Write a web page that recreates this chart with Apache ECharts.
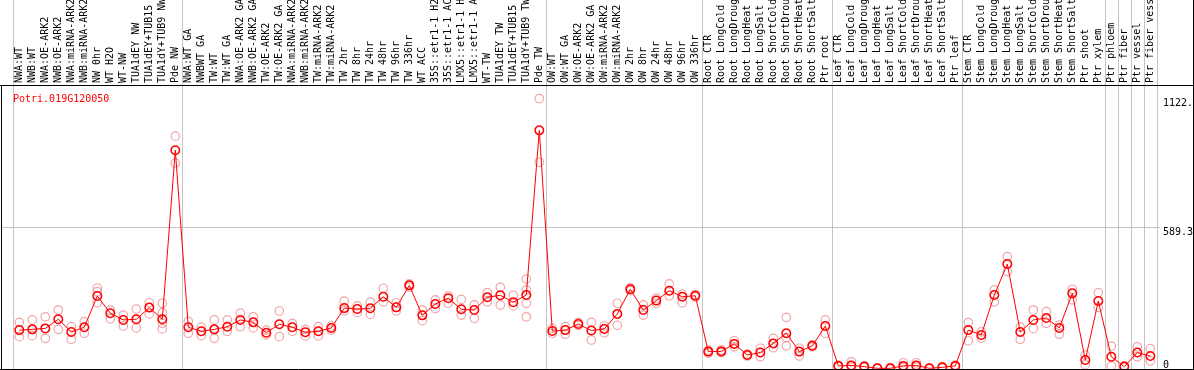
<!DOCTYPE html>
<html>
<head>
<meta charset="utf-8">
<script src="https://cdn.jsdelivr.net/npm/echarts@6/dist/echarts.min.js"></script>
<style>
  html, body { margin: 0; padding: 0; background: #fff; }
  #chart { width: 1194px; height: 370px; }
</style>
</head>
<body>
<div id="chart"></div>
<script>
const geneId = 'Potri.019G120050';

const categories = [
  'NWA:WT', 'NWB:WT', 'NWA:OE-ARK2', 'NWB:OE-ARK2', 'NWA:miRNA-ARK2', 'NWB:miRNA-ARK2',
  'NW 0hr', 'WT H2O', 'WT-NW', 'TUA1dEY NW', 'TUA1dEY+TUB15 NW', 'TUA1dY+TUB9 NW', 'Pde NW',
  'NWA:WT GA', 'NWBWT GA', 'TW:WT', 'TW:WT GA', 'NWA:OE-ARK2 GA', 'NWB:OE-ARK2 GA',
  'TW:OE-ARK2', 'TW:OE-ARK2 GA', 'NWA:miRNA-ARK2', 'NWB:miRNA-ARK2', 'TW:miRNA-ARK2', 'TW:miRNA-ARK2',
  'TW 2hr', 'TW 8hr', 'TW 24hr', 'TW 48hr', 'TW 96hr', 'TW 336hr', 'WT ACC',
  '35S::etr1-1 H2O', '35S::etr1-1 ACC', 'LMX5::etr1-1 H2O', 'LMX5::etr1-1 ACC',
  'WT-TW', 'TUA1dEY TW', 'TUA1dEY+TUB15 TW', 'TUA1dY+TUB9 TW', 'Pde TW',
  'OW:WT', 'OW:WT GA', 'OW:OE-ARK2', 'OW:OE-ARK2 GA', 'OW:miRNA-ARK2', 'OW:miRNA-ARK2',
  'OW 2hr', 'OW 8hr', 'OW 24hr', 'OW 48hr', 'OW 96hr', 'OW 336hr',
  'Root CTR', 'Root LongCold', 'Root LongDrought', 'Root LongHeat', 'Root LongSalt',
  'Root ShortCold', 'Root ShortDrought', 'Root ShortHeat', 'Root ShortSalt', 'Ptr root',
  'Leaf CTR', 'Leaf LongCold', 'Leaf LongDrought', 'Leaf LongHeat', 'Leaf LongSalt',
  'Leaf ShortCold', 'Leaf ShortDrought', 'Leaf ShortHeat', 'Leaf ShortSalt', 'Ptr leaf',
  'Stem CTR', 'Stem LongCold', 'Stem LongDrought', 'Stem LongHeat', 'Stem LongSalt',
  'Stem ShortCold', 'Stem ShortDrought', 'Stem ShortHeat', 'Stem ShortSalt', 'Ptr shoot',
  'Ptr xylem', 'Ptr phloem', 'Ptr fiber', 'Ptr vessel', 'Ptr fiber vessel'
];

// index of the first category of each sample group
const groupStarts = [0, 13, 41, 53, 63, 73, 84, 85, 86, 87];

const means = [
  165, 168, 172, 210, 157, 177, 306, 235, 207, 210, 258, 210, 909,
  177, 160, 168, 179, 207, 197, 154, 189, 177, 156, 160, 174, 256, 252, 255, 303, 259, 350,
  226, 273, 297, 251, 248, 301, 309, 280, 310, 991,
  161, 165, 190, 163, 170, 232, 334, 248, 287, 328, 303, 307,
  76, 77, 108, 62, 72, 110, 152, 76, 100, 182,
  17, 19, 14, 7, 7, 17, 19, 7, 11, 17,
  165, 145, 310, 438, 157, 207, 215, 174, 317, 41, 285,
  55, 14, 72, 58
];

const repHigh = [
  197, 207, 220, 248, 179, 200, 339, 248, 227, 252, 278, 276, 967,
  201, 177, 207, 207, 235, 220, 165, 244, 193, 168, 179, 182, 285, 265, 281, 338, 278, 356,
  248, 290, 306, 292, 269, 320, 342, 309, 376, 1122.5,
  172, 179, 197, 197, 182, 276, 340, 269, 297, 356, 314, 312,
  82, 83, 121, 66, 90, 131, 218, 90, 104, 207,
  20, 34, 17, 9, 10, 30, 30, 9, 14, 20,
  196, 158, 331, 469, 177, 248, 241, 186, 334, 62, 320,
  99, 17, 96, 88
];

const repLow = [
  138, 142, 131, 168, 127, 152, 278, 212, 182, 174, 232, 170, 856,
  152, 142, 131, 160, 179, 174, 145, 138, 160, 141, 141, 165, 245, 237, 230, 282, 245, 343,
  204, 254, 276, 227, 214, 282, 269, 265, 220, 859,
  152, 148, 184, 124, 154, 185, 328, 227, 276, 307, 278, 302,
  70, 72, 96, 58, 55, 92, 100, 58, 96, 152,
  14, 12, 11, 5, 4, 10, 12, 5, 8, 14,
  121, 132, 282, 407, 127, 172, 193, 148, 290, 21, 259,
  17, 11, 55, 38
];

// extra replicates where more than two are visible
const repExtra1 = categories.map(() => null);
repExtra1[6] = 324; repExtra1[11] = 237; repExtra1[39] = 331; repExtra1[59] = 134;
const repExtra2 = categories.map(() => null);
repExtra2[11] = 193; repExtra2[39] = 276;

const axisTicks = [0, 589.3, 1122.5];
const axisTickText = ['0', '589.3', '1122.5'];

const FONT = 'DejaVu Sans Mono';
const GRID_GRAY = '#c4c4c4';
const REP_COLOR = '#ec9090';

let myChart = echarts.init(document.getElementById('chart'));

function repSeries(data) {
  return {
    type: 'scatter',
    xAxisIndex: 0,
    yAxisIndex: 0,
    data: data,
    symbol: 'circle',
    symbolSize: 8.5,
    clip: false,
    silent: true,
    itemStyle: {color: 'rgba(255,255,255,0)', borderColor: REP_COLOR, borderWidth: 1.2},
    z: 2
  };
}

myChart.setOption({
  animation: false,
  backgroundColor: '#fff',
  title: {
    text: geneId,
    left: 8,
    top: 89,
    textStyle: {color: '#ff0000', fontSize: 10, fontWeight: 'normal', fontFamily: FONT}
  },
  grid: [
    {left: 12.8, right: 37.2, top: 0, bottom: 0, outerBoundsMode: 'none', containLabel: false},
    {left: 1, right: 34, top: 0, bottom: 0, outerBoundsMode: 'none', containLabel: false}
  ],
  xAxis: [
    {
      type: 'category',
      gridIndex: 0,
      data: categories,
      position: 'top',
      offset: -85,
      boundaryGap: true,
      axisLine: {show: false},
      axisTick: {show: false},
      axisLabel: {
        interval: 0,
        rotate: 90,
        margin: 2,
        color: '#000',
        fontSize: 10,
        fontFamily: FONT
      },
      splitLine: {
        show: true,
        interval: (index) => groupStarts.indexOf(index) >= 0,
        lineStyle: {color: GRID_GRAY, width: 1}
      }
    },
    {type: 'value', gridIndex: 1, show: false, min: 0, max: 1}
  ],
  yAxis: [
    {type: 'value', gridIndex: 0, min: 0, max: 1530, show: false},
    {
      type: 'value',
      gridIndex: 1,
      min: 0,
      max: 1530,
      interval: 589.3,
      position: 'right',
      axisLine: {show: false},
      axisTick: {show: false},
      axisLabel: {
        customValues: axisTicks,
        formatter: (v) => axisTickText[axisTicks.indexOf(v)] || '',
        margin: 3,
        color: '#000',
        fontSize: 10,
        fontFamily: FONT,
        verticalAlign: 'top',
        verticalAlignMinLabel: 'bottom'
      },
      splitLine: {show: true, showMaxLine: false, lineStyle: {color: GRID_GRAY, width: 1}}
    }
  ],
  series: [
    repSeries(repHigh),
    repSeries(repLow),
    repSeries(repExtra1),
    repSeries(repExtra2),
    {
      type: 'line',
      xAxisIndex: 0,
      yAxisIndex: 0,
      data: means,
      symbol: 'circle',
      symbolSize: 8.5,
      showAllSymbol: true,
      clip: false,
      silent: true,
      lineStyle: {color: '#ff0000', width: 1},
      itemStyle: {color: 'rgba(255,255,255,0)', borderColor: '#ff0000', borderWidth: 1.5},
      z: 3
    }
  ],
  graphic: [
    {type: 'line', shape: {x1: 0, y1: 85.5, x2: 1194, y2: 85.5}, style: {stroke: '#000', lineWidth: 1}, z: 10, silent: true},
    {type: 'line', shape: {x1: 1.5, y1: 85, x2: 1.5, y2: 370}, style: {stroke: '#000', lineWidth: 1}, z: 10, silent: true},
    {type: 'line', shape: {x1: 0, y1: 369.5, x2: 1194, y2: 369.5}, style: {stroke: '#000', lineWidth: 1}, z: 10, silent: true},
    {type: 'line', shape: {x1: 1193.5, y1: 0, x2: 1193.5, y2: 370}, style: {stroke: '#000', lineWidth: 1}, z: 10, silent: true}
  ]
});

window.addEventListener('resize', function() {
  myChart.resize();
});
</script>
</body>
</html>
